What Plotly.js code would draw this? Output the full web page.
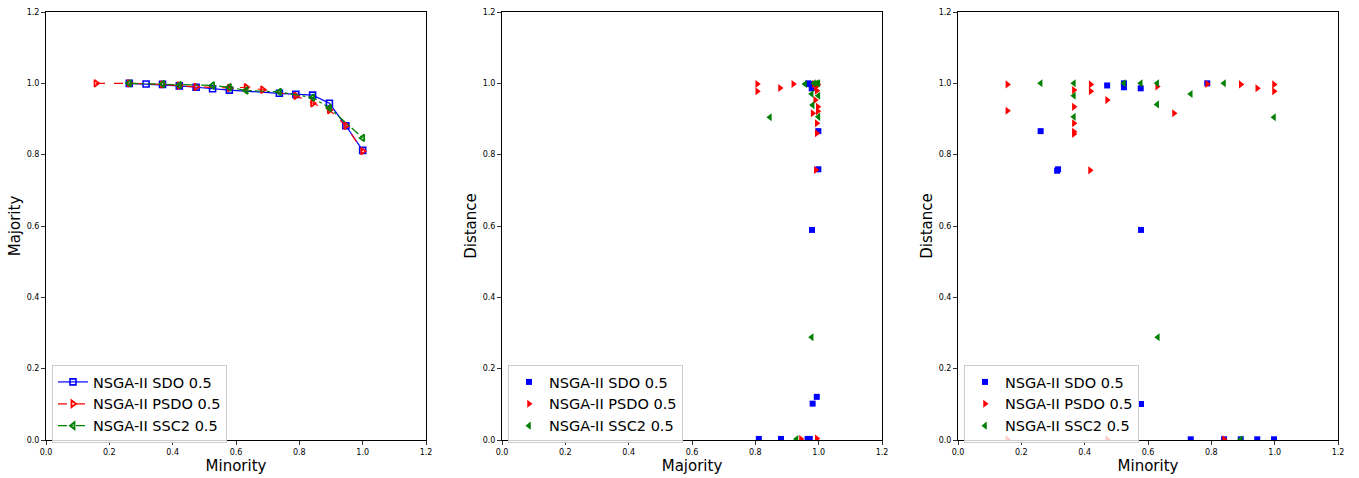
<!DOCTYPE html>
<html>
<head>
<meta charset="utf-8">
<script src="https://cdn.plot.ly/plotly-3.0.1.min.js"></script>
<style>html,body{margin:0;padding:0;background:#fff;}#chart{width:1359px;height:478px;}</style>
</head>
<body>
<div id="chart"></div>
<script>
// ---- Panel 1: Minority vs Majority (lines) ----
const p1_sdo_min = [0.263,0.316,0.368,0.421,0.474,0.526,0.579,0.737,0.789,0.842,0.895,0.947,1.0];
const p1_sdo_maj = [1.0,0.998,0.997,0.993,0.989,0.985,0.981,0.972,0.969,0.967,0.944,0.881,0.812];
const p1_psdo_min = [0.158,0.263,0.368,0.421,0.474,0.579,0.632,0.684,0.789,0.842,0.895,0.947,1.0];
const p1_psdo_maj = [1.0,1.0,0.997,0.994,0.990,0.987,0.989,0.982,0.965,0.944,0.925,0.881,0.810];
const p1_ssc2_min = [0.263,0.368,0.421,0.526,0.579,0.632,0.737,0.842,0.895,1.0];
const p1_ssc2_maj = [1.0,0.998,0.995,0.994,0.989,0.980,0.976,0.960,0.931,0.847];

// ---- Panel 2: Majority vs Distance ----
const p2_sdo_maj = [0.967,0.970,0.986,0.978,0.999,0.999,0.979,0.994,0.981,0.811,0.881,0.965,0.972];
const p2_sdo_dist = [1.0,0.998,0.997,0.986,0.866,0.759,0.589,0.121,0.102,0.003,0.003,0.003,0.003];
const p2_psdo_maj = [0.806,0.806,0.878,0.920,0.985,0.997,0.990,0.994,0.989,0.997,0.981,0.997,0.994,0.994,0.991,0.944,0.994];
const p2_psdo_dist = [0.998,0.978,0.987,0.998,0.998,0.997,0.990,0.979,0.953,0.934,0.916,0.922,0.888,0.860,0.757,0.003,0.004];
const p2_ssc2_maj = [0.957,0.985,0.994,0.999,0.978,0.999,0.981,0.999,0.846,0.978,0.930];
const p2_ssc2_dist = [0.998,1.0,1.0,1.0,0.970,0.965,0.939,0.906,0.905,0.288,0.003];

// ---- Panel 3: Minority vs Distance ----
const p3_sdo_min = [0.471,0.524,0.524,0.577,0.787,0.261,0.316,0.313,0.578,0.578,0.735,0.840,0.893,0.945,0.998];
const p3_sdo_dist = [0.994,1.0,0.989,0.986,1.0,0.866,0.759,0.755,0.589,0.101,0.002,0.002,0.002,0.002,0.002];
const p3_psdo_min = [0.156,0.156,0.366,0.366,0.366,0.366,0.366,0.419,0.419,0.417,0.471,0.629,0.682,0.787,0.893,0.945,0.998,0.998,0.156,0.471,0.840];
const p3_psdo_dist = [0.997,0.923,0.981,0.934,0.888,0.864,0.858,0.997,0.978,0.756,0.953,0.991,0.916,0.998,0.997,0.986,0.997,0.978,0.002,0.002,0.002];
const p3_ssc2_min = [0.261,0.366,0.366,0.366,0.524,0.577,0.629,0.629,0.735,0.840,0.998,0.631,0.893];
const p3_ssc2_dist = [1.0,1.0,0.965,0.906,1.0,1.0,1.0,0.941,0.970,1.0,0.905,0.288,0.002];

const names = ["NSGA-II SDO 0.5","NSGA-II PSDO 0.5","NSGA-II SSC2 0.5"];
const BLUE = "#0000ff", RED = "#ff0000", GREEN = "#008000";

const traces = [
  {x:p1_sdo_min, y:p1_sdo_maj, name:names[0], mode:"lines+markers", xaxis:"x", yaxis:"y", legend:"legend",
   line:{color:BLUE,width:1.2,dash:"solid"}, marker:{symbol:"square-open",size:6,color:BLUE,line:{width:1.6,color:BLUE}}},
  {x:p1_psdo_min, y:p1_psdo_maj, name:names[1], mode:"lines+markers", xaxis:"x", yaxis:"y", legend:"legend",
   line:{color:RED,width:1.2,dash:"dash"}, marker:{symbol:"triangle-right-open",size:6,color:RED,line:{width:1.8,color:RED}}},
  {x:p1_ssc2_min, y:p1_ssc2_maj, name:names[2], mode:"lines+markers", xaxis:"x", yaxis:"y", legend:"legend",
   line:{color:GREEN,width:1.2,dash:"dashdot"}, marker:{symbol:"triangle-left-open",size:6,color:GREEN,line:{width:1.8,color:GREEN}}},

  {x:p2_sdo_maj, y:p2_sdo_dist, name:names[0], mode:"markers", xaxis:"x2", yaxis:"y2", legend:"legend2",
   marker:{symbol:"square",size:6,color:BLUE}},
  {x:p2_psdo_maj, y:p2_psdo_dist, name:names[1], mode:"markers", xaxis:"x2", yaxis:"y2", legend:"legend2",
   marker:{symbol:"triangle-right",size:7,color:RED}},
  {x:p2_ssc2_maj, y:p2_ssc2_dist, name:names[2], mode:"markers", xaxis:"x2", yaxis:"y2", legend:"legend2",
   marker:{symbol:"triangle-left",size:7,color:GREEN}},

  {x:p3_sdo_min, y:p3_sdo_dist, name:names[0], mode:"markers", xaxis:"x3", yaxis:"y3", legend:"legend3",
   marker:{symbol:"square",size:6,color:BLUE}},
  {x:p3_psdo_min, y:p3_psdo_dist, name:names[1], mode:"markers", xaxis:"x3", yaxis:"y3", legend:"legend3",
   marker:{symbol:"triangle-right",size:7,color:RED}},
  {x:p3_ssc2_min, y:p3_ssc2_dist, name:names[2], mode:"markers", xaxis:"x3", yaxis:"y3", legend:"legend3",
   marker:{symbol:"triangle-left",size:7,color:GREEN}}
];

const W = 1359, H = 478;
const yDom = [(H-440)/H, (H-12)/H];
function xd(a,b){return [a/W, b/W];}
function ax(title, dom, anchor, standoff){
  return {domain:dom, anchor:anchor, range:[0,1.2], dtick:0.2, tick0:0, tickformat:".1f",
    showgrid:false, zeroline:false, showline:true, mirror:true, linecolor:"#000", linewidth:1,
    ticks:"outside", ticklen:4, tickwidth:0.8, tickcolor:"#000",
    tickfont:{family:"DejaVu Sans", size:8, color:"#000"},
    title:{text:title, font:{family:"DejaVu Sans", size:15, color:"#000"}, standoff:standoff}};
}
function leg(x){
  return {x:x, y:(H-365)/H, xanchor:"left", yanchor:"top", xref:"paper", yref:"paper",
    bgcolor:"rgba(255,255,255,0.8)", bordercolor:"#cccccc", borderwidth:1,
    font:{family:"DejaVu Sans", size:14.5, color:"#000"}, tracegroupgap:0, itemwidth:30};
}

const layout = {
  width:W, height:H, margin:{l:0,r:0,t:0,b:0},
  paper_bgcolor:"#fff", plot_bgcolor:"#fff", showlegend:true,
  xaxis:ax("Minority", xd(46,426), "y", 2),
  yaxis:ax("Majority", yDom, "x", 2),
  xaxis2:ax("Majority", xd(502,882), "y2", 2),
  yaxis2:ax("Distance", yDom, "x2", 2),
  xaxis3:ax("Minority", xd(958,1338), "y3", 2),
  yaxis3:ax("Distance", yDom, "x3", 2),
  legend:leg(52/W), legend2:leg(508/W), legend3:leg(964/W)
};

Plotly.newPlot("chart", traces, layout, {staticPlot:true, displayModeBar:false});
</script>
</body>
</html>
